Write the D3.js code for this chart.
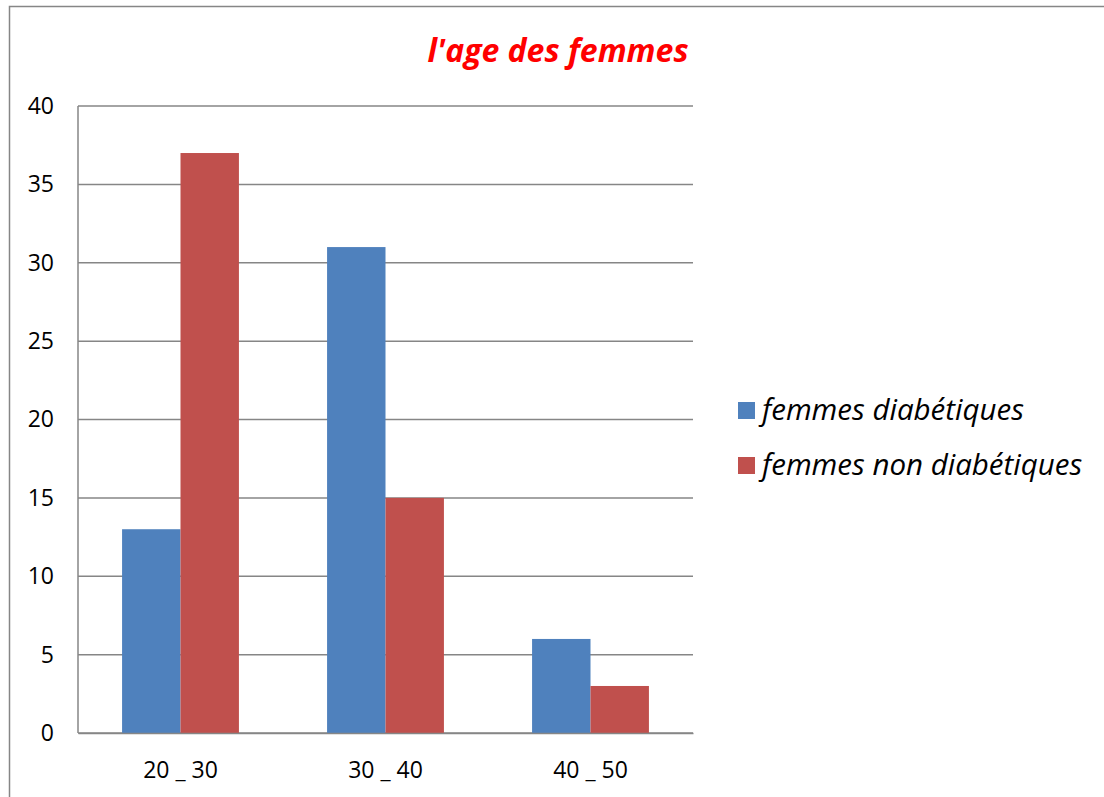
<!DOCTYPE html>
<html>
<head>
<meta charset="utf-8">
<script src="https://cdn.jsdelivr.net/npm/d3@7"></script>
<style>
  body { margin: 0; background: #fff; }
  text { font-family: "Open Sans", "Noto Sans", sans-serif; }
</style>
</head>
<body>
<div id="wrapper"></div>
<script>
const categories = ['20 _ 30', '30 _ 40', '40 _ 50']
const seriesNames = ['femmes diabétiques', 'femmes non diabétiques']
const diabetiques = [13, 31, 6]
const nonDiabetiques = [37, 15, 3]
const yTicks = [0, 5, 10, 15, 20, 25, 30, 35, 40]
const colors = ['#4F81BD', '#C0504D']

function drawChart() {
	const dimensions = {
		width: 1104,
		height: 797,
		margin: { top: 106, right: 411, bottom: 64, left: 78 },
	}
	dimensions.boundedWidth = dimensions.width - dimensions.margin.left - dimensions.margin.right
	dimensions.boundedHeight = dimensions.height - dimensions.margin.top - dimensions.margin.bottom

	const svg = d3.select('#wrapper')
		.append('svg')
			.attr('width', dimensions.width)
			.attr('height', dimensions.height)

	// outer chart border
	svg.append('rect')
		.attr('x', 9.5)
		.attr('y', 6.5)
		.attr('width', 1110)
		.attr('height', 810)
		.attr('fill', 'none')
		.attr('stroke', '#868686')
		.attr('stroke-width', 1.5)

	svg.append('text')
		.attr('x', 558)
		.attr('y', 62)
		.attr('text-anchor', 'middle')
		.attr('fill', '#FF0000')
		.style('font-size', '32px')
		.style('font-weight', 'bold')
		.style('font-style', 'italic')
		.text("l'age des femmes")

	const bounds = svg.append('g')
		.attr('transform', `translate(${dimensions.margin.left},${dimensions.margin.top})`)

	const xScale = d3.scaleBand()
		.domain(categories)
		.range([0, dimensions.boundedWidth])
		.paddingInner(0)

	const yScale = d3.scaleLinear()
		.domain([0, 40])
		.range([dimensions.boundedHeight, 0])

	const groupPad = 0.215
	const subScale = d3.scaleBand()
		.domain(seriesNames)
		.range([xScale.bandwidth() * groupPad, xScale.bandwidth() * (1 - groupPad)])

	// gridlines
	bounds.append('g')
		.selectAll('line')
		.data(yTicks)
		.join('line')
			.attr('x1', 0)
			.attr('x2', dimensions.boundedWidth)
			.attr('y1', d => yScale(d))
			.attr('y2', d => yScale(d))
			.attr('stroke', '#868686')
			.attr('stroke-width', 1.5)

	// bars
	const table = categories.map((c, i) => ({
		cat: c,
		values: [
			{ name: seriesNames[0], value: diabetiques[i], color: colors[0] },
			{ name: seriesNames[1], value: nonDiabetiques[i], color: colors[1] },
		],
	}))

	bounds.selectAll('g.group')
		.data(table)
		.join('g')
			.attr('class', 'group')
			.attr('transform', d => `translate(${xScale(d.cat)},0)`)
		.selectAll('rect')
		.data(d => d.values)
		.join('rect')
			.attr('x', d => subScale(d.name))
			.attr('width', subScale.bandwidth())
			.attr('y', d => yScale(d.value))
			.attr('height', d => yScale(0) - yScale(d.value))
			.attr('fill', d => d.color)

	// axes lines
	bounds.append('line')
		.attr('x1', 0).attr('x2', 0)
		.attr('y1', 0).attr('y2', dimensions.boundedHeight)
		.attr('stroke', '#868686')
		.attr('stroke-width', 1.5)

	const yAxisGenerator = d3.axisLeft(yScale)
		.tickValues(yTicks)
		.tickSize(0)
		.tickPadding(24)
	const yAxis = bounds.append('g').call(yAxisGenerator)
	yAxis.select('.domain').remove()
	yAxis.selectAll('text')
		.style('font-size', '23px')
		.attr('fill', '#000')

	const xAxisGenerator = d3.axisBottom(xScale)
		.tickSize(0)
		.tickPadding(29)
	const xAxis = bounds.append('g')
		.attr('transform', `translate(0,${dimensions.boundedHeight})`)
		.call(xAxisGenerator)
	xAxis.select('.domain')
		.attr('stroke', '#868686')
		.attr('stroke-width', 1.5)
	xAxis.selectAll('text')
		.style('font-size', '23px')
		.attr('fill', '#000')

	// legend
	const legend = svg.append('g')
		.selectAll('g')
		.data(seriesNames)
		.join('g')
			.attr('transform', (d, i) => `translate(738,${402 + i * 55})`)
	legend.append('rect')
		.attr('width', 17)
		.attr('height', 17)
		.attr('fill', (d, i) => colors[i])
	legend.append('text')
		.attr('x', 24)
		.attr('y', 18)
		.style('font-size', '29.5px')
		.style('font-style', 'italic')
		.text(d => d)
}
drawChart()
</script>
</body>
</html>
